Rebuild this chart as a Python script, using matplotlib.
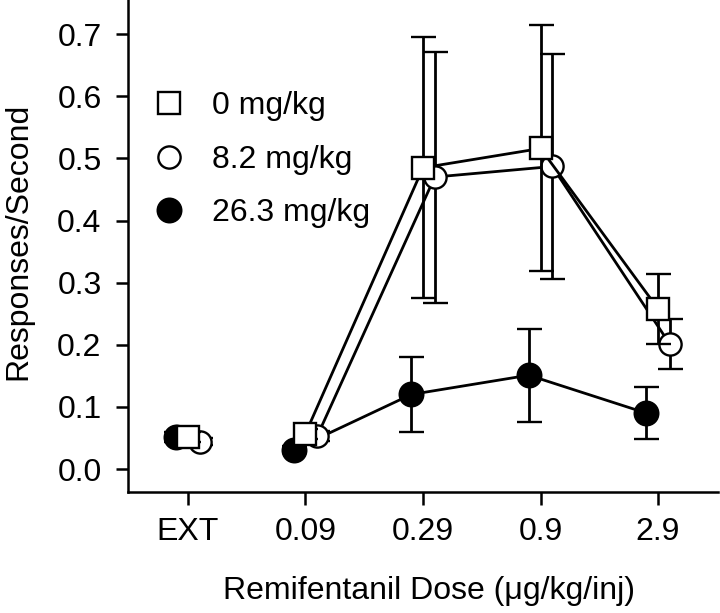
import matplotlib
matplotlib.use("Agg")
import matplotlib.pyplot as plt
import numpy as np
from matplotlib.lines import Line2D

plt.rcParams['font.family'] = ['Liberation Sans', 'DejaVu Sans']

categories = ["EXT", "0.09", "0.29", "0.9", "2.9"]
labels = ["0 mg/kg", "8.2 mg/kg", "26.3 mg/kg"]

mean_0 = [0.052, 0.057, 0.485, 0.516, 0.258]
err_0 = [0.008, 0.008, 0.210, 0.198, 0.056]

mean_82 = [0.044, 0.053, 0.470, 0.487, 0.201]
err_82 = [0.006, 0.008, 0.202, 0.181, 0.040]

mean_263 = [0.052, 0.031, 0.120, 0.151, 0.090]
err_263 = [0.008, 0.006, 0.060, 0.075, 0.042]

offsets = [0.0, 0.10, -0.10]

fig = plt.figure(figsize=(7.2, 6.13), dpi=100)
ax = fig.add_axes([128/720, 1 - 492/613, 590/720, 492/613])

x = np.arange(len(categories))
lw = 2.0

def series(means, errs, off, marker, face, z, label, ms_):
    xs = x + off
    ax.errorbar(xs[:1], means[:1], yerr=errs[:1], fmt=marker, mfc=face, mec='black',
                mew=1.7, ms=ms_, ecolor='black', elinewidth=lw, capsize=9, capthick=lw,
                color='black', zorder=z)
    ax.errorbar(xs[1:], means[1:], yerr=errs[1:], fmt='-' + marker, mfc=face, mec='black',
                mew=1.7, ms=ms_, ecolor='black', elinewidth=lw, capsize=9, capthick=lw,
                color='black', lw=lw, zorder=z, label=label)

series(mean_263, err_263, offsets[2], 'o', 'black', 2, labels[2], 17)
series(mean_82, err_82, offsets[1], 'o', 'white', 3, labels[1], 16)
series(mean_0, err_0, offsets[0], 's', 'white', 4, labels[0], 15.5)

ax.set_xlim(-0.51, 4.51)
ax.set_ylim(-0.037, 0.755)
ax.set_xticks(x)
ax.set_xticklabels(categories)
yt = np.arange(0, 0.71, 0.1)
ax.set_yticks(yt)
ax.set_yticklabels([f"{v:.1f}" for v in yt])
ax.tick_params(axis='both', direction='out', length=9, width=1.8, labelsize=23)
ax.tick_params(axis='x', pad=9)
ax.tick_params(axis='y', pad=10)
for s in ['top', 'right']:
    ax.spines[s].set_visible(False)
for s in ['left', 'bottom']:
    ax.spines[s].set_linewidth(1.8)

ax.set_xlabel("Remifentanil Dose (\u03bcg/kg/inj)", fontsize=23)
ax.set_ylabel("Responses/Second", fontsize=23)
ax.xaxis.set_label_coords(0.51, -0.17)
ax.yaxis.set_label_coords(-0.16, 0.51)

handles = [Line2D([], [], marker='s', ls='none', mfc='white', mec='black', mew=1.7, ms=15.5),
           Line2D([], [], marker='o', ls='none', mfc='white', mec='black', mew=1.7, ms=16),
           Line2D([], [], marker='o', ls='none', mfc='black', mec='black', mew=1.7, ms=17)]
ax.legend(handles, labels, loc='upper left', bbox_to_anchor=(0.02, 0.84), frameon=False,
          fontsize=23, handlelength=1.0, handletextpad=0.85, labelspacing=0.73,
          borderaxespad=0)

fig.savefig("out.png", dpi=100)
